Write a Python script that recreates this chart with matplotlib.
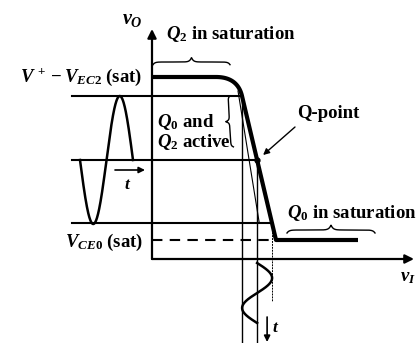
import numpy as np
import matplotlib
matplotlib.use("Agg")
import matplotlib.pyplot as plt

plt.rcParams['font.family'] = 'Liberation Serif'
plt.rcParams['font.weight'] = 'bold'
plt.rcParams['mathtext.fontset'] = 'custom'
plt.rcParams['mathtext.rm'] = 'Liberation Serif:bold'
plt.rcParams['mathtext.it'] = 'Liberation Serif:italic:bold'
plt.rcParams['mathtext.bf'] = 'Liberation Serif:bold'

# ---- transfer characteristic (v_I, v_O), arbitrary units ----
v_high = 182            # V+ - V_EC2(sat)
v_sat0 = 19             # V_CE0(sat)
plateau_end = 64        # end of the Q2-saturation plateau
slope_top = (90, 163)   # top of the active (steep) segment
slope_bot = (124, 19)   # bottom of the active segment
curve_end = 206         # end of the Q0-saturation plateau

# output swing levels: top, quiescent, bottom
swing_levels = [163, 99, 36]

# output sine (drawn left of the vertical axis)
out_sine_start = -72
out_sine_period = 53
guide_start = -80

# input sine (drawn below the horizontal axis)
in_sine_top = -4
in_sine_period = 60

FS = 13.5

fig = plt.figure(figsize=(4.16, 3.43), dpi=100)
ax = fig.add_axes([0, 0, 1, 1])
ax.set_xlim(-152, 264)
ax.set_ylim(-84, 259)
ax.axis('off')

K = 'black'

# axes with arrow heads
ax.annotate('', xy=(0, 230), xytext=(0, 0),
            arrowprops=dict(arrowstyle='-|>', lw=1.6, color=K, mutation_scale=13,
                            shrinkA=0, shrinkB=0))
ax.annotate('', xy=(262, 0), xytext=(0, 0),
            arrowprops=dict(arrowstyle='-|>', lw=1.6, color=K, mutation_scale=13,
                            shrinkA=0, shrinkB=0))

# transfer curve with rounded upper corner
corner_ctrl_x = slope_top[0] - (v_high - slope_top[1]) * (slope_bot[0] - slope_top[0]) / (slope_top[1] - slope_bot[1])
s = np.linspace(0, 1, 40)
p0 = np.array([plateau_end, v_high])
p1 = np.array([corner_ctrl_x, v_high])
p2 = np.array(slope_top, dtype=float)
bez = ((1 - s) ** 2)[:, None] * p0 + (2 * (1 - s) * s)[:, None] * p1 + (s ** 2)[:, None] * p2
curve_x = np.concatenate([[0], bez[:, 0], [slope_bot[0], curve_end]])
curve_y = np.concatenate([[v_high], bez[:, 1], [slope_bot[1], v_sat0]])
ax.plot(curve_x, curve_y, color=K, lw=3.0, solid_capstyle='butt', solid_joinstyle='round')

# input values where the active segment crosses each swing level
seg_y = [slope_bot[1], slope_top[1]]
seg_x = [slope_bot[0], slope_top[0]]
vi_levels = [float(np.interp(v, seg_y, seg_x)) for v in swing_levels]
vi_top, vi_q, vi_bot = vi_levels
vo_top, vo_q, vo_bot = swing_levels

# horizontal guides from the output sine to the curve
for v, xi in zip(swing_levels, vi_levels):
    ax.plot([guide_start, xi], [v, v], color=K, lw=1.5)

# dashed saturation level of Q0
ax.plot([0, slope_bot[0]], [v_sat0, v_sat0], color=K, lw=1.5, ls=(0, (5, 3.5)))

# vertical projections down to the input sine
ax.plot([vi_top, vi_top], [vo_top, -84], color=K, lw=1.0)
ax.plot([vi_q, vi_q], [vo_q, -84], color=K, lw=1.0)
ax.plot([vi_bot, vi_bot], [vo_bot, -42], color=K, lw=0.7, ls=(0, (2, 1)))

# thin auxiliary line in the active region
ax.plot([vi_top - 4, vi_q + 2], [vo_top + 5, vo_bot + 1], color=K, lw=0.8)

# Q-point
ax.plot([vi_q], [vo_q], 'o', color=K, ms=3.5)

# output sine wave
xo = np.linspace(out_sine_start, out_sine_start + out_sine_period, 200)
amp_out = vo_top - vo_q
yo = vo_q - amp_out * np.sin(2 * np.pi * (xo - out_sine_start) / out_sine_period)
ax.plot(xo, yo, color=K, lw=1.8)

# input sine wave
t = np.linspace(0, 1, 200)
amp_in = (vi_bot - vi_top) / 2
xi_s = vi_q + amp_in * np.sin(2 * np.pi * t)
yi_s = in_sine_top - in_sine_period * t
ax.plot(xi_s, yi_s, color=K, lw=1.8)

# time arrows
ax.annotate('', xy=(-7, 89), xytext=(-37, 89),
            arrowprops=dict(arrowstyle='-|>', lw=1.2, color=K, mutation_scale=9,
                            shrinkA=0, shrinkB=0))
ax.annotate('', xy=(vi_q + 10, -83), xytext=(vi_q + 10, -58),
            arrowprops=dict(arrowstyle='-|>', lw=1.2, color=K, mutation_scale=9,
                            shrinkA=0, shrinkB=0))


def brace(p_start, p_end, h, lw=1.0):
    """Curly brace from p_start to p_end, cusp on the left-hand normal side."""
    p_start = np.asarray(p_start, float)
    p_end = np.asarray(p_end, float)
    d = p_end - p_start
    n = np.array([-d[1], d[0]]) / np.hypot(*d)
    s = np.linspace(0, 1, 400)
    u = 1 - np.abs(2 * s - 1)
    k = 22
    f = -0.6 * np.exp(-k * u) + 1.0 * np.exp(-k * (1 - u))
    pts = p_start[None, :] + s[:, None] * d[None, :] + (h * f)[:, None] * n[None, :]
    ax.plot(pts[:, 0], pts[:, 1], color=K, lw=lw)


brace((1, 197), (78, 197), 4.5)
brace((135, 29), (223, 29), 5)
brace((79, 112), (76, 163), 4)

# labels
ax.text(-20, 240, r'$v_O$', fontsize=FS + 1, ha='center', va='center')
ax.text(14, 225, r'$Q_2$ in saturation', fontsize=FS, ha='left', va='center')
ax.text(-10, 182, r'$V^{\,+} - V_{EC2}$ (sat)', fontsize=FS, ha='right', va='center')
ax.text(5, 137, r'$Q_0$ and', fontsize=FS, ha='left', va='center')
ax.text(5, 117, r'$Q_2$ active', fontsize=FS, ha='left', va='center')
ax.text(145, 146, 'Q-point', fontsize=FS, ha='left', va='center')
ax.annotate('', xy=(vi_q + 6, vo_q + 5), xytext=(143, 132),
            arrowprops=dict(arrowstyle='-|>', lw=1.0, color=K, mutation_scale=9,
                            shrinkA=0, shrinkB=0))
ax.text(135, 46, r'$Q_0$ in saturation', fontsize=FS, ha='left', va='center')
ax.text(-9, 17, r'$V_{CE0}$ (sat)', fontsize=FS, ha='right', va='center')
ax.text(256, -19, r'$v_I$', fontsize=FS, ha='center', va='center')
ax.text(-24, 74, r'$t$', fontsize=FS - 1, ha='center', va='center')
ax.text(vi_q + 19, -69, r'$t$', fontsize=FS - 1, ha='center', va='center')

fig.savefig('out.png', dpi=100)
